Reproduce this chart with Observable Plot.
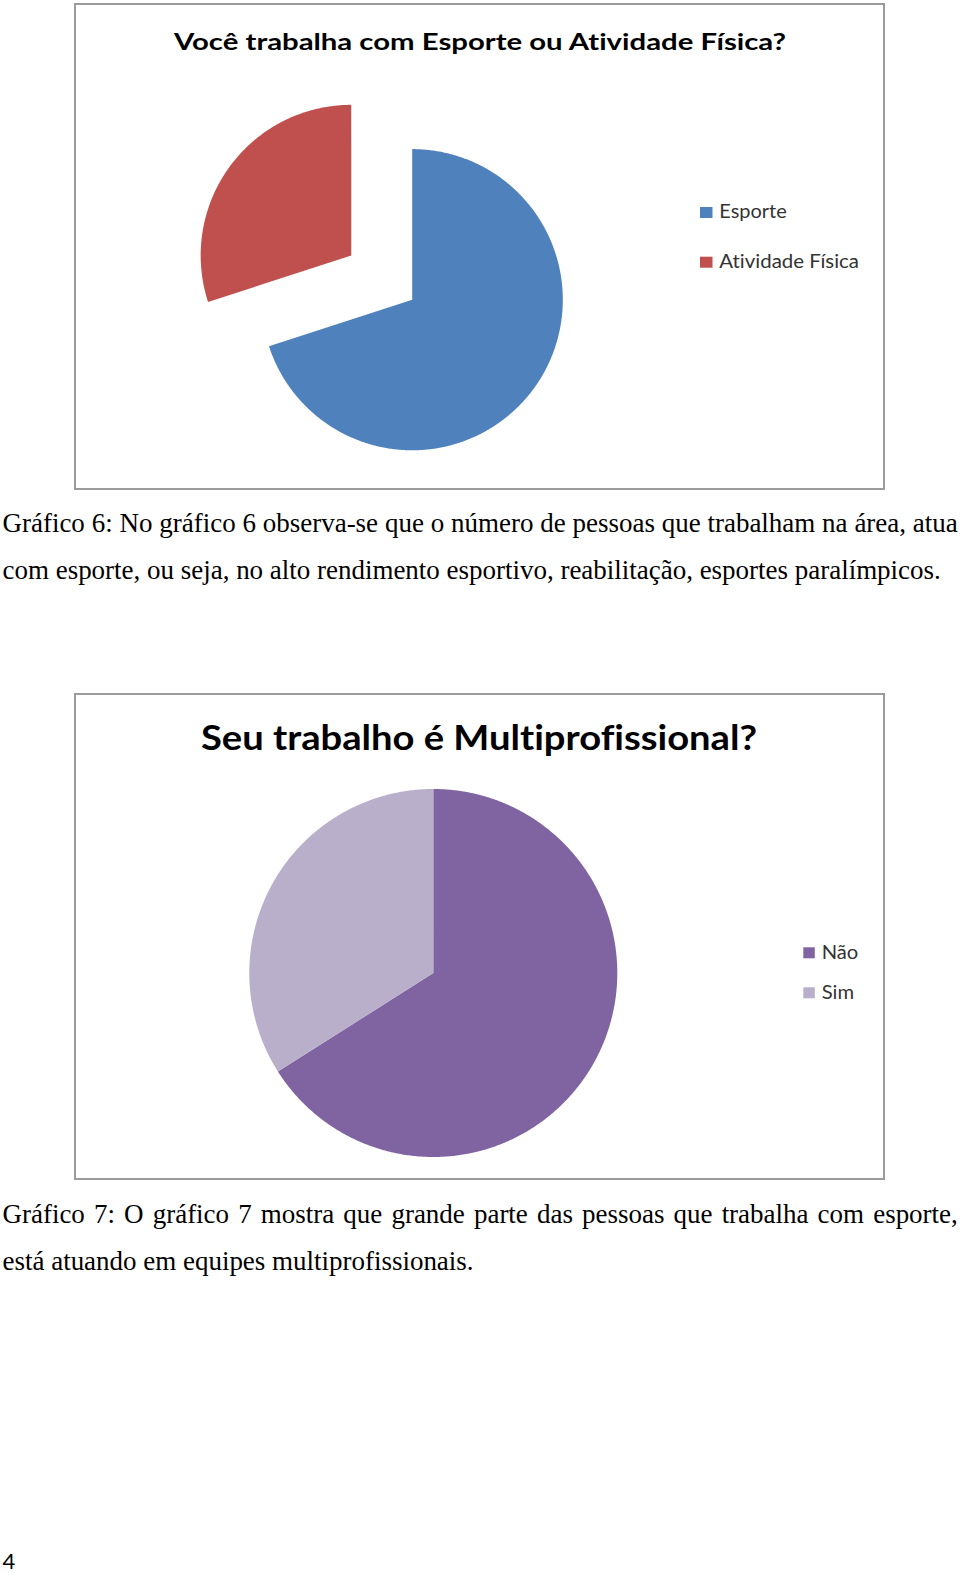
<!DOCTYPE html>
<html>
<head>
<meta charset="utf-8">
<script src="https://cdn.jsdelivr.net/npm/d3@7"></script>
<script src="https://cdn.jsdelivr.net/npm/@observablehq/plot@0.6"></script>
<style>
html, body { margin: 0; padding: 0; background: #fff; width: 960px; height: 1574px; overflow: hidden; }
#page { position: relative; width: 960px; height: 1574px; }
.box { position: absolute; border: 2px solid #9b9b9b; box-sizing: border-box; background: #fff; }
.box svg { position: absolute; left: 0; top: 0; }
#overlay { position: absolute; left: 0; top: 0; pointer-events: none; }
#overlay text { font-variant-ligatures: none; }
</style>
</head>
<body>
<div id="page">
  <div class="box" id="box1"></div>
  <div class="box" id="box2"></div>
  <svg id="overlay" width="960" height="1574"></svg>
</div>
<script>
// ---------- data ----------
const chart1Title = "Você trabalha com Esporte ou Atividade Física?";
const chart1Categories = ["Esporte", "Atividade Física"];
const chart1Values = [70, 30];
const chart1Colors = ["#4F81BD", "#C0504D"];

const chart2Title = "Seu trabalho é Multiprofissional?";
const chart2Categories = ["Não", "Sim"];
const chart2Values = [66, 34];
const chart2Colors = ["#8064A2", "#B9AFCB"];

const caption1Lines = [
  "Gráfico 6: No gráfico 6 observa-se que o número de pessoas que trabalham na área, atua",
  "com esporte, ou seja, no alto rendimento esportivo, reabilitação, esportes paralímpicos."
];
const caption2Lines = [
  "Gráfico 7: O gráfico 7 mostra que grande parte das pessoas que trabalha com esporte,",
  "está atuando em equipes multiprofissionais."
];
const pageNumber = "4";

// ---------- layout ----------
const box1 = {left: 74, top: 3, width: 811, height: 487};
const box2 = {left: 74, top: 693, width: 811, height: 487};

function placeBox(id, b) {
  const el = document.getElementById(id);
  el.style.left = b.left + "px"; el.style.top = b.top + "px";
  el.style.width = b.width + "px"; el.style.height = b.height + "px";
  return el;
}

function pieChart({categories, values, colors, width, height, cx, cy, r, explode}) {
  const arcs = d3.pie().sort(null).startAngle(0).endAngle(2 * Math.PI)(values);
  const pts = [];
  arcs.forEach((a, i) => {
    const cat = categories[i];
    const mid = (a.startAngle + a.endAngle) / 2;
    const off = (explode[i] || 0) * r;
    const ox = cx + off * Math.sin(mid), oy = cy - off * Math.cos(mid);
    const n = Math.max(2, Math.ceil((a.endAngle - a.startAngle) / (Math.PI / 360)));
    pts.push({cat, px: ox, py: oy});
    for (let k = 0; k <= n; k++) {
      const t = a.startAngle + (a.endAngle - a.startAngle) * k / n;
      pts.push({cat, px: ox + r * Math.sin(t), py: oy - r * Math.cos(t)});
    }
    pts.push({cat, px: ox, py: oy});
  });
  return Plot.plot({
    width, height, margin: 0,
    style: {background: "transparent", overflow: "visible"},
    x: {domain: [0, width], range: [0, width], axis: null},
    y: {domain: [0, height], range: [0, height], axis: null},
    color: {domain: categories, range: colors},
    marks: [
      Plot.line(pts, {x: "px", y: "py", z: "cat", fill: "cat", stroke: "none", curve: "linear"})
    ]
  });
}

const b1 = placeBox("box1", box1);
const w1 = box1.width - 4, h1 = box1.height - 4;
b1.appendChild(pieChart({
  categories: chart1Categories, values: chart1Values, colors: chart1Colors,
  width: w1, height: h1, cx: 411.7 - box1.left - 2, cy: 299.2 - box1.top - 2, r: 150.6,
  explode: [0, 0.5]
}));

const b2 = placeBox("box2", box2);
const w2 = box2.width - 4, h2 = box2.height - 4;
b2.appendChild(pieChart({
  categories: chart2Categories, values: chart2Values, colors: chart2Colors,
  width: w2, height: h2, cx: 432.8 - box2.left - 2, cy: 972.5 - box2.top - 2, r: 184,
  explode: [0, 0]
}));

// ---------- text overlay ----------
const NS = "http://www.w3.org/2000/svg";
const overlay = document.getElementById("overlay");
function addText(str, x, y, font, size, weight, fill, fitWidth, extra) {
  const t = document.createElementNS(NS, "text");
  t.textContent = str;
  t.setAttribute("x", x); t.setAttribute("y", y);
  t.setAttribute("font-family", font);
  t.setAttribute("font-size", size);
  t.setAttribute("font-weight", weight);
  t.setAttribute("fill", fill);
  if (fitWidth) { t.setAttribute("textLength", fitWidth); t.setAttribute("lengthAdjust", "spacingAndGlyphs"); }
  if (extra) for (const k in extra) t.setAttribute(k, extra[k]);
  overlay.appendChild(t);
  return t;
}
function addRect(x, y, w, h, fill) {
  const r = document.createElementNS(NS, "rect");
  r.setAttribute("x", x); r.setAttribute("y", y); r.setAttribute("width", w); r.setAttribute("height", h);
  r.setAttribute("fill", fill);
  overlay.appendChild(r);
}

// titles
addText(chart1Title, 174, 50, "Lato", 23.5, 700, "#000", 612);
addText(chart2Title, 201, 749.5, "Lato", 35, 700, "#000", 556);

// legends
const legendFont = "Lato";
addRect(700, 207, 12.5, 11, chart1Colors[0]);
addText(chart1Categories[0], 719.3, 218.3, legendFont, 18.5, 400, "#333", 786.7 - 719.3);
addRect(700, 256.7, 12.5, 11, chart1Colors[1]);
addText(chart1Categories[1], 719.3, 268.3, legendFont, 18.5, 400, "#333", 859 - 719.3);

addRect(803.3, 947.3, 11.5, 11, chart2Colors[0]);
addText(chart2Categories[0], 821.7, 959, legendFont, 18.5, 400, "#333", 858.3 - 821.7);
addRect(803.3, 987.3, 11.5, 11, chart2Colors[1]);
addText(chart2Categories[1], 821.7, 999.3, legendFont, 18.5, 400, "#333", 854 - 821.7);

// captions (Times-like serif, horizontally condensed, justified)
const capFont = "'Liberation Serif', 'Times New Roman', serif";
const capSize = 28;
const ctx = document.createElement("canvas").getContext("2d");
ctx.font = capSize + "px 'Liberation Serif'";
const measure = s => ctx.measureText(s).width;
const capLeft = 2.5;
const sx = (941 - capLeft) / measure(caption1Lines[1]);
function captionLine(str, y, right) {
  const natural = measure(str);
  const t = addText(str, 0, 0, capFont, capSize, 400, "#000", null,
    {transform: `translate(${capLeft},${y}) scale(${sx},1)`});
  if (right) {
    const nSpaces = (str.match(/ /g) || []).length;
    const ws = ((right - capLeft) / sx - natural) / nSpaces;
    t.style.wordSpacing = ws + "px";
  }
}
captionLine(caption1Lines[0], 531.7, 958);
captionLine(caption1Lines[1], 578.9, null);
captionLine(caption2Lines[0], 1222.5, 958);
captionLine(caption2Lines[1], 1269.5, null);

// page number
addText(pageNumber, 2.5, 1568.5, "Lato", 22, 400, "#000", null);
</script>
</body>
</html>
